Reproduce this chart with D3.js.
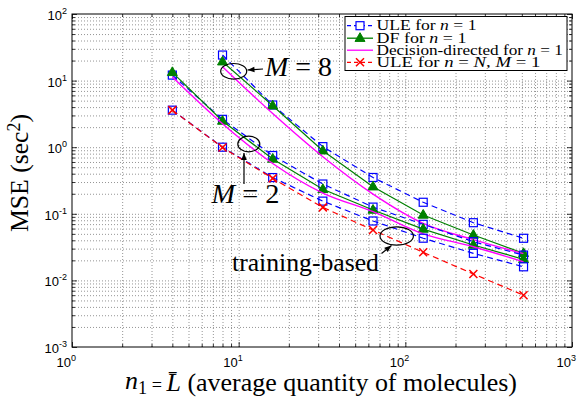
<!DOCTYPE html>
<html><head><meta charset="utf-8">
<script src="https://cdn.jsdelivr.net/npm/d3@7"></script>
<style>body{margin:0;background:#fff}</style>
</head><body>
<svg id="c" width="581" height="405" xmlns="http://www.w3.org/2000/svg"></svg>
<script>
// ---------- data ----------
const nFull  = [4, 8, 16, 32, 64, 128, 256, 512];
const nFrom8 = [8, 16, 32, 64, 128, 256, 512];
// M = 8 (n = 1)
const uleM8 = [24.2, 4.3, 1.02, 0.351, 0.149, 0.0735, 0.0429];
const dfM8  = [19.2, 4.2, 0.885, 0.255, 0.096, 0.048, 0.0255];
const ddM8  = [16.2, 3.2, 0.72, 0.198, 0.072, 0.041, 0.0252];
// M = 2 (n = 1)
const uleM2 = [12.1, 2.62, 0.75, 0.28, 0.126, 0.0695, 0.0381, 0.024];
const dfM2  = [13.3, 2.47, 0.665, 0.233, 0.114, 0.059, 0.034, 0.0207];
const ddM2  = [11.3, 2.25, 0.57, 0.205, 0.108, 0.05, 0.032, 0.019];
// M = 1 (training-based)
const uleM1 = [3.6, 1.0, 0.35, 0.155, 0.078, 0.043, 0.0255, 0.016];
const uleNN = [3.6, 0.99, 0.34, 0.125, 0.057, 0.0264, 0.0125, 0.006];

const xMajor = [1, 10, 100, 1000];
const yMajor = [1e-3, 1e-2, 1e-1, 1, 10, 100];
const legendLabels = [
  [["ULE for ",""],["n","i"],[" = 1",""]],
  [["DF for ",""],["n","i"],[" = 1",""]],
  [["Decision-directed for ",""],["n","i"],[" = 1",""]],
  [["ULE for ",""],["n","i"],[" = ",""],["N","i"],[", ",""],["M","i"],[" = 1",""]]
];

// ---------- setup ----------
const svg = d3.select("#c");
const L = 72, R = 572, T = 14, B = 347;
const x = d3.scaleLog().domain([1, 1000]).range([L, R]);
const y = d3.scaleLog().domain([1e-3, 100]).range([B, T]);
const serif = "'Liberation Serif', 'Times New Roman', serif";
const sans = "'Liberation Sans', Arial, Helvetica, sans-serif";

function minors(lo, hi) {
  const out = [];
  for (let d = lo; d < hi; d++) for (let k = 2; k <= 9; k++) out.push(k * Math.pow(10, d));
  return out;
}
const xMinor = minors(0, 3), yMinor = minors(-3, 2);

// ---------- grid ----------
const grid = svg.append("g");
function gridAxis(axis, tr) {
  const g = grid.append("g").attr("transform", tr).call(axis);
  g.select(".domain").remove();
  g.selectAll("text").remove();
  g.selectAll("line").attr("stroke", "#7a7a7a").attr("stroke-width", 0.8).attr("stroke-dasharray", "1,2");
}
gridAxis(d3.axisBottom(x).tickValues(xMinor.concat(xMajor.slice(1, 3))).tickSize(-(B - T)).tickFormat(""), `translate(0,${B})`);
gridAxis(d3.axisLeft(y).tickValues(yMinor.concat(yMajor.slice(1, 5))).tickSize(-(R - L)).tickFormat(""), `translate(${L},0)`);

// ---------- ticks ----------
function tickAxis(axis, tr) {
  const g = svg.append("g").attr("transform", tr).call(axis);
  g.select(".domain").remove();
  g.selectAll("text").remove();
  g.selectAll("line").attr("stroke", "#000").attr("stroke-width", 0.8);
}
tickAxis(d3.axisBottom(x).tickValues(xMajor).tickSize(-5).tickFormat(""), `translate(0,${B})`);
tickAxis(d3.axisBottom(x).tickValues(xMinor).tickSize(-3).tickFormat(""), `translate(0,${B})`);
tickAxis(d3.axisTop(x).tickValues(xMajor).tickSize(-5).tickFormat(""), `translate(0,${T})`);
tickAxis(d3.axisTop(x).tickValues(xMinor).tickSize(-3).tickFormat(""), `translate(0,${T})`);
tickAxis(d3.axisLeft(y).tickValues(yMajor).tickSize(-5).tickFormat(""), `translate(${L},0)`);
tickAxis(d3.axisLeft(y).tickValues(yMinor).tickSize(-3).tickFormat(""), `translate(${L},0)`);
tickAxis(d3.axisRight(y).tickValues(yMajor).tickSize(-5).tickFormat(""), `translate(${R},0)`);
tickAxis(d3.axisRight(y).tickValues(yMinor).tickSize(-3).tickFormat(""), `translate(${R},0)`);

// ---------- tick labels ----------
function powLabel(g, v, px, py, anchor) {
  const e = Math.round(Math.log10(v));
  const t = g.append("text").attr("x", px).attr("y", py).attr("text-anchor", anchor)
    .attr("font-family", sans).attr("font-size", 13).attr("fill", "#000");
  t.append("tspan").text("10");
  t.append("tspan").attr("font-size", 9).attr("dy", -6).text(String(e));
}
const lab = svg.append("g");
xMajor.forEach(v => powLabel(lab, v, x(v) + 4, 367, "end"));
yMajor.forEach(v => powLabel(lab, v, 67, y(v) + 6, "end"));

// ---------- plot lines ----------
const plot = svg.append("g");
svg.append("clipPath").attr("id", "clip").append("rect").attr("x", L).attr("y", T).attr("width", R - L).attr("height", B - T);
plot.attr("clip-path", "url(#clip)");

const BLUE = "#0000ff", GREEN = "#008000", MAG = "#ff00ff", RED = "#ff0000";
function series(xs, ys, color, dash, curve) {
  const data = xs.map((v, i) => [v, ys[i]]);
  const line = d3.line().x(d => x(d[0])).y(d => y(d[1])).curve(curve || d3.curveLinear);
  plot.append("path").datum(data).attr("d", line).attr("fill", "none")
    .attr("stroke", color).attr("stroke-width", color === MAG ? 1.4 : 1.2)
    .attr("stroke-dasharray", dash || null);
  return data;
}
function squares(data) {
  plot.selectAll(null).data(data).enter().append("rect")
    .attr("x", d => x(d[0]) - 4).attr("y", d => y(d[1]) - 4).attr("width", 8).attr("height", 8)
    .attr("fill", "none").attr("stroke", BLUE).attr("stroke-width", 1.2);
}
const triPath = "M0,-5.5L5,3.2L-5,3.2Z";
function triangles(data) {
  plot.selectAll(null).data(data).enter().append("path")
    .attr("transform", d => `translate(${x(d[0])},${y(d[1])})`).attr("d", triPath)
    .attr("fill", GREEN).attr("stroke", GREEN).attr("stroke-width", 1);
}
const xPath = "M-4,-4L4,4M-4,4L4,-4";
function crosses(data) {
  plot.selectAll(null).data(data).enter().append("path")
    .attr("transform", d => `translate(${x(d[0])},${y(d[1])})`).attr("d", xPath)
    .attr("fill", "none").attr("stroke", RED).attr("stroke-width", 1.5);
}
const dsh = "6,4";
// M = 8
squares(series(nFrom8, uleM8, BLUE, dsh));
triangles(series(nFrom8, dfM8, GREEN));
series(nFrom8, ddM8, MAG, null, d3.curveMonotoneX);
// M = 2
squares(series(nFull, uleM2, BLUE, dsh));
triangles(series(nFull, dfM2, GREEN));
series(nFull, ddM2, MAG, null, d3.curveMonotoneX);
// M = 1
squares(series(nFull, uleM1, BLUE, dsh));
crosses(series(nFull, uleNN, RED, dsh));

// ---------- box ----------
svg.append("rect").attr("x", L).attr("y", T).attr("width", R - L).attr("height", B - T)
  .attr("fill", "none").attr("stroke", "#000").attr("stroke-width", 1);

// ---------- helpers for rich text ----------
function rich(parent, parts, px, py, size, anchor) {
  const t = parent.append("text").attr("x", px).attr("y", py).attr("font-family", serif)
    .attr("font-size", size).attr("text-anchor", anchor || "start").attr("fill", "#000");
  parts.forEach(p => {
    const s = t.append("tspan").text(p[0]);
    if (p[1].includes("i")) s.attr("font-style", "italic");
    if (p[1].includes("sub")) s.attr("font-size", "0.7em").attr("dy", "0.3em");
    if (p[1].includes("sup")) s.attr("font-size", "0.7em").attr("dy", "-0.45em");
    if (p[1].includes("back")) s.attr("dy", p[1].includes("fromsub") ? "-0.21em" : "0.315em");
  });
  return t;
}
function fit(t, target) {
  const w = t.node().getComputedTextLength();
  const fs = parseFloat(t.attr("font-size"));
  t.attr("font-size", fs * target / w);
}
// stretch horizontally (wide Computer-Modern-like look) keeping height
function stretch(g, parts, px, py, size, target) {
  const holder = g.append("g");
  const t = rich(holder, parts, 0, 0, size);
  const w = t.node().getComputedTextLength();
  holder.attr("transform", `translate(${px},${py}) scale(${target / w},1)`);
  return t;
}

// ---------- legend ----------
const lg = svg.append("g");
lg.append("rect").attr("x", 345).attr("y", 16.5).attr("width", 222).attr("height", 54)
  .attr("fill", "#fff").attr("stroke", "#000").attr("stroke-width", 1);
const rowY = [25.7, 38.2, 50.2, 62.3];
const rowW = [100, 90, 186.5, 164];
const legStyle = [[BLUE, dsh, "sq"], [GREEN, null, "tri"], [MAG, null, null], [RED, dsh, "x"]];
legStyle.forEach((s, i) => {
  const yy = rowY[i];
  lg.append("line").attr("x1", 347).attr("x2", 373).attr("y1", yy).attr("y2", yy)
    .attr("stroke", s[0]).attr("stroke-width", 1.3).attr("stroke-dasharray", s[1] ? "4,3" : null);
  if (s[2] === "sq") lg.append("rect").attr("x", 356).attr("y", yy - 4).attr("width", 8).attr("height", 8)
    .attr("fill", "#fff").attr("stroke", BLUE).attr("stroke-width", 1.2);
  if (s[2] === "tri") lg.append("path").attr("transform", `translate(360,${yy})`).attr("d", triPath)
    .attr("fill", GREEN).attr("stroke", GREEN);
  if (s[2] === "x") lg.append("path").attr("transform", `translate(360,${yy})`).attr("d", xPath)
    .attr("stroke", RED).attr("stroke-width", 1.5);
  stretch(lg, legendLabels[i], 376.5, yy + 4.3, 14, rowW[i]);
});

// ---------- axis titles ----------
const xt = rich(svg, [["n","i"],["1","sub"],[" = ","back fromsub"],["L\u0304","i"],[" (average quantity of molecules)",""]], 321, 389, 20, "middle");
fit(xt, 392);
const yt = svg.append("g").attr("transform", "translate(28,173) rotate(-90)");
const ytt = rich(yt, [["MSE (sec",""],["2","sup"],[")","back"]], 0, 0, 20, "middle");
fit(ytt, 118);

// ---------- annotations ----------
const ann = svg.append("g");
function arrow(x1, y1, x2, y2) {
  ann.append("line").attr("x1", x1).attr("y1", y1).attr("x2", x2).attr("y2", y2)
    .attr("stroke", "#000").attr("stroke-width", 1.2);
  const a = Math.atan2(y2 - y1, x2 - x1) * 180 / Math.PI;
  ann.append("path").attr("transform", `translate(${x2},${y2}) rotate(${a})`)
    .attr("d", "M0,0L-7,-2.8L-7,2.8Z").attr("fill", "#000");
}
function ell(cx, cy, rx, ry) {
  ann.append("ellipse").attr("cx", cx).attr("cy", cy).attr("rx", rx).attr("ry", ry)
    .attr("fill", "none").attr("stroke", "#000").attr("stroke-width", 1.2);
}
ell(233.7, 71.3, 13, 7.8);
arrow(263, 69, 247.5, 70);
const m8 = rich(ann, [["M","i"],[" = 8",""]], 265, 76, 21);
fit(m8, 67);
ell(248.8, 144, 11, 7.8);
arrow(244, 184, 244, 153);
const m2 = rich(ann, [["M","i"],[" = 2",""]], 211.5, 202.5, 21);
fit(m2, 68);
ell(396.7, 236, 16.7, 9.2);
arrow(381.5, 253.5, 391.5, 245.5);
const tb = rich(ann, [["training-based",""]], 232, 271, 19);
fit(tb, 147);
</script>
</body></html>
